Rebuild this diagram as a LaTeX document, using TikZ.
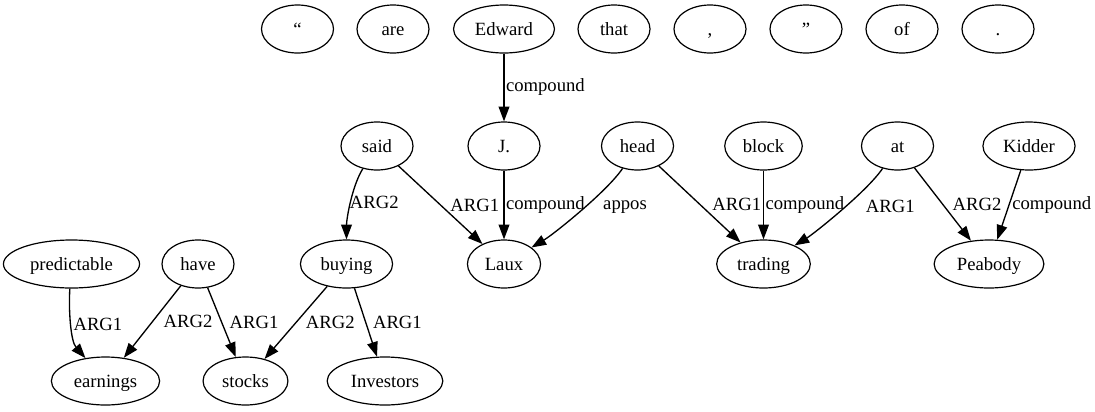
\documentclass[tikz,border=0pt]{standalone}
\usepackage{fontspec}
\setmainfont{Liberation Serif}
\usetikzlibrary{shapes.geometric,arrows.meta}

\begin{document}
\begin{tikzpicture}[x=0.75pt,y=-0.75pt,
  tok/.style={draw,ellipse,line width=0.9pt,minimum width=54pt,minimum height=36pt,
    inner xsep=5pt,inner ysep=2pt,text height=12pt,text depth=3pt,
    font=\fontsize{14pt}{16pt}\selectfont},
  dep/.style={-{Triangle[length=11pt,width=8pt]},line width=1pt},
  lab/.style={inner sep=1pt,font=\fontsize{14pt}{16pt}\selectfont}]
  \useasboundingbox (0,0) rectangle (1095,411);
  % words without links
  \node[tok] (lq) at (297.5,29) {“};
  \node[tok] (are) at (393,29) {are};
  \node[tok] (edward) at (504,29) {Edward};
  \node[tok] (that) at (614,29) {that};
  \node[tok] (comma) at (710,29) {,};
  \node[tok] (rq) at (806,29) {”};
  \node[tok] (of) at (902,29) {of};
  \node[tok] (dot) at (998,29) {.};
  % heads
  \node[tok] (said) at (377,146) {said};
  \node[tok] (j) at (504,146) {J.};
  \node[tok] (head) at (637.5,146) {head};
  \node[tok] (block) at (763.5,146) {block};
  \node[tok] (atw) at (897.5,146) {at};
  \node[tok] (kidder) at (1029,146) {Kidder};
  \node[tok] (pred) at (71.5,264) {predictable};
  \node[tok] (have) at (198,264) {have};
  \node[tok] (buying) at (346.5,264) {buying};
  \node[tok] (laux) at (504,264) {Laux};
  \node[tok] (trading) at (763.5,264) {trading};
  \node[tok] (peabody) at (989,264) {Peabody};
  \node[tok] (earnings) at (105.5,381) {earnings};
  \node[tok] (stocks) at (245.5,381) {stocks};
  \node[tok] (investors) at (385,381) {Investors};
  % links
  \draw[dep] (edward) -- node[lab,right] {compound} (j);
  \draw[dep] (j) -- node[lab,right] {compound} (laux);
  \draw[dep] (said) .. controls +(-25,40) and +(0,-45) .. node[lab,right=-2pt] {ARG2} (buying);
  \draw[dep] (said) -- node[lab,right=6pt] {ARG1} (laux);
  \draw[dep] (head) .. controls +(-30,45) and +(50,-30) .. node[lab,pos=0.45,right=12pt] {appos} (laux);
  \draw[dep] (head) -- node[lab,right=8pt] {ARG1} (trading);
  \draw[dep] (block) -- node[lab,right] {compound} (trading);
  \draw[dep] (atw) .. controls +(-30,45) and +(50,-30) .. node[lab,pos=0.45,right=14pt] {ARG1} (trading);
  \draw[dep] (atw) -- node[lab,right=6pt] {ARG2} (peabody);
  \draw[dep] (kidder) -- node[lab,right=1pt] {compound} (peabody);
  \draw[dep] (pred) .. controls +(-3,45) and +(-35,-40) .. node[lab,right] {ARG1} (earnings);
  \draw[dep] (have) -- node[lab,right=7pt] {ARG2} (earnings);
  \draw[dep] (have) -- node[lab,right=4.5pt] {ARG1} (stocks);
  \draw[dep] (buying) -- node[lab,right=6pt] {ARG2} (stocks);
  \draw[dep] (buying) -- node[lab,right=4pt] {ARG1} (investors);
\end{tikzpicture}
\end{document}
